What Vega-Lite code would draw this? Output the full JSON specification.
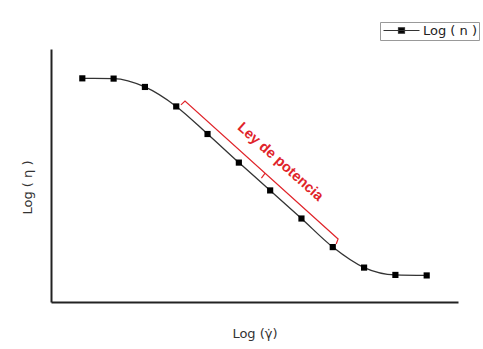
{
  "$schema": "https://vega.github.io/schema/vega-lite/v6.json",
  "width": 407,
  "height": 253,
  "autosize": {"type": "none"},
  "padding": {"left": 51, "top": 49, "right": 25, "bottom": 47},
  "background": "#ffffff",
  "config": {
    "view": {"stroke": null},
    "font": "Liberation Sans",
    "axis": {
      "grid": false,
      "ticks": false,
      "labels": false,
      "domainColor": "#222222",
      "domainWidth": 2,
      "titleFont": "DejaVu Sans",
      "titleFontSize": 13,
      "titleFontWeight": "normal",
      "titleColor": "#333333"
    }
  },
  "datasets": {
    "curve": [
      {"logGamma": 1, "logEta": 8.84, "serie": "Log ( n )"},
      {"logGamma": 2, "logEta": 8.83, "serie": "Log ( n )"},
      {"logGamma": 3, "logEta": 8.5, "serie": "Log ( n )"},
      {"logGamma": 4, "logEta": 7.73, "serie": "Log ( n )"},
      {"logGamma": 5, "logEta": 6.64, "serie": "Log ( n )"},
      {"logGamma": 6, "logEta": 5.51, "serie": "Log ( n )"},
      {"logGamma": 7, "logEta": 4.41, "serie": "Log ( n )"},
      {"logGamma": 8, "logEta": 3.3, "serie": "Log ( n )"},
      {"logGamma": 9, "logEta": 2.17, "serie": "Log ( n )"},
      {"logGamma": 10, "logEta": 1.36, "serie": "Log ( n )"},
      {"logGamma": 11, "logEta": 1.07, "serie": "Log ( n )"},
      {"logGamma": 12, "logEta": 1.05, "serie": "Log ( n )"}
    ],
    "bracket": [
      {"seg": "main", "ord": 1, "bx": 4.15, "by": 7.79},
      {"seg": "main", "ord": 2, "bx": 4.28, "by": 7.94},
      {"seg": "main", "ord": 3, "bx": 9.17, "by": 2.49},
      {"seg": "main", "ord": 4, "bx": 9.11, "by": 2.29},
      {"seg": "tick", "ord": 1, "bx": 6.84, "by": 5.09},
      {"seg": "tick", "ord": 2, "bx": 6.72, "by": 4.9}
    ],
    "label": [
      {"lx": 7.32, "ly": 5.53, "text": "Ley de potencia"}
    ]
  },
  "layer": [
    {
      "data": {"name": "curve"},
      "mark": {"type": "line", "interpolate": "monotone", "strokeWidth": 1.3},
      "encoding": {
        "x": {"field": "logGamma", "type": "quantitative", "scale": {"domain": [0, 13], "nice": false, "zero": false}, "axis": {"title": "Log (γ̇)", "titlePadding": 25}},
        "y": {"field": "logEta", "type": "quantitative", "scale": {"domain": [0, 10], "nice": false}, "axis": {"title": "Log ( η )", "titlePadding": 17, "titleY": 138}},
        "color": {
          "field": "serie",
          "type": "nominal",
          "scale": {"range": ["#333333"]},
          "legend": {
            "title": null,
            "orient": "none",
            "legendX": 329,
            "legendY": -27,
            "symbolType": "M-3.6,0H3.6M-0.6,-0.55H0.6V0.55H-0.6Z",
            "symbolSize": 100,
            "symbolOffset": 13,
            "symbolStrokeWidth": 1.2,
            "symbolFillColor": "#000000",
            "symbolStrokeColor": "#222222",
            "labelFont": "DejaVu Sans",
            "labelFontSize": 13,
            "labelOffset": 15,
            "labelColor": "#222222",
            "strokeColor": "#999999",
            "padding": 2
          }
        }
      }
    },
    {
      "data": {"name": "curve"},
      "mark": {"type": "point", "shape": "square", "filled": true, "size": 38, "color": "#000000", "opacity": 1},
      "encoding": {
        "x": {"field": "logGamma", "type": "quantitative"},
        "y": {"field": "logEta", "type": "quantitative"}
      }
    },
    {
      "data": {"name": "bracket"},
      "mark": {"type": "line", "color": "#e0242a", "strokeWidth": 1.2},
      "encoding": {
        "x": {"field": "bx", "type": "quantitative"},
        "y": {"field": "by", "type": "quantitative"},
        "detail": {"field": "seg"},
        "order": {"field": "ord"}
      }
    },
    {
      "data": {"name": "label"},
      "mark": {"type": "text", "color": "#e0242a", "fontWeight": "bold", "fontSize": 14.5, "angle": 41.8, "align": "center", "baseline": "middle", "font": "Liberation Sans"},
      "encoding": {
        "x": {"field": "lx", "type": "quantitative"},
        "y": {"field": "ly", "type": "quantitative"},
        "text": {"field": "text"}
      }
    }
  ]
}
